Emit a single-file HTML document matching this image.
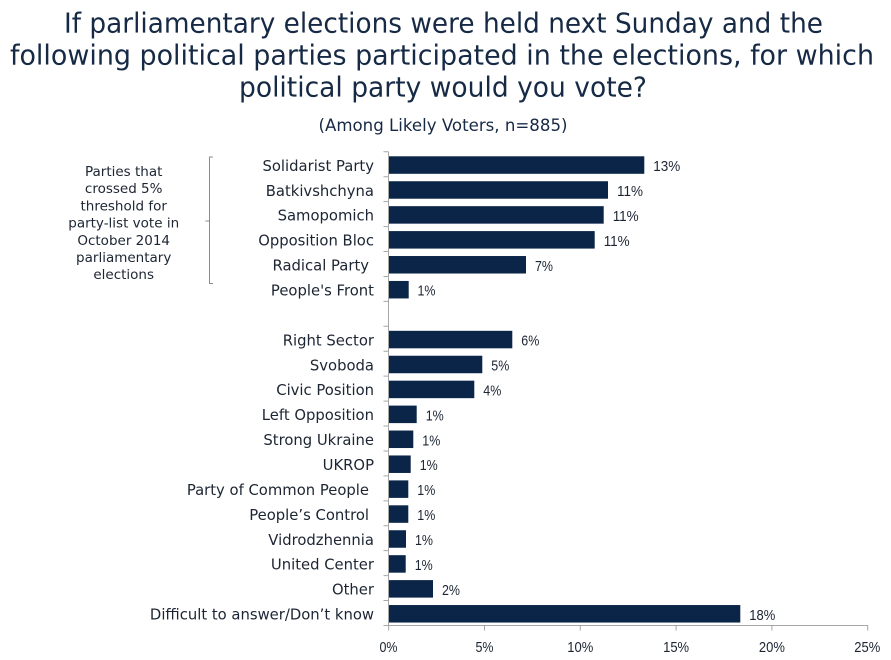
<!DOCTYPE html>
<html>
<head>
<meta charset="utf-8">
<style>
  html,body{margin:0;padding:0;background:#fff;}
  body{width:891px;height:660px;overflow:hidden;}
  svg{display:block;}
  .t{font-family:"DejaVu Sans","Liberation Sans",sans-serif;fill:#172a45;}
  .lab{font-family:"DejaVu Sans","Liberation Sans",sans-serif;font-size:14.8px;fill:#1c2533;}
  .val{font-family:"Liberation Sans","DejaVu Sans",sans-serif;font-size:15px;fill:#1c2533;}
  .note{font-family:"DejaVu Sans","Liberation Sans",sans-serif;font-size:13.5px;fill:#1c2533;}
</style>
</head>
<body>
<svg width="891" height="660" viewBox="0 0 891 660" xmlns="http://www.w3.org/2000/svg">
  <!-- Title -->
  <text class="t" x="64" y="32.3" font-size="27.5" textLength="759" lengthAdjust="spacingAndGlyphs">If parliamentary elections were held next Sunday and the</text>
  <text class="t" x="10" y="64.3" font-size="27.5" textLength="864" lengthAdjust="spacingAndGlyphs">following political parties participated in the elections, for which</text>
  <text class="t" x="239" y="96.5" font-size="27.5" textLength="408" lengthAdjust="spacingAndGlyphs">political party would you vote?</text>
  <text class="t" x="318.5" y="131" font-size="16.5" textLength="249" lengthAdjust="spacingAndGlyphs">(Among Likely Voters, n=885)</text>

  <!-- Note on left -->
  <g class="note" text-anchor="middle">
    <text x="123.7" y="176">Parties that</text>
    <text x="123.7" y="193.2">crossed 5%</text>
    <text x="123.7" y="210.4">threshold for</text>
    <text x="123.7" y="227.6">party-list vote in</text>
    <text x="123.7" y="244.8">October 2014</text>
    <text x="123.7" y="262">parliamentary</text>
    <text x="123.7" y="279.2">elections</text>
  </g>
  <!-- Bracket -->
  <g stroke="#8c8c8c" stroke-width="1" fill="none">
    <path d="M213 157 H209.5 V283.5 H213"/>
    <path d="M209.5 221 H205.5"/>
  </g>

  <!-- Axes -->
  <g stroke="#a6a6a6" stroke-width="1" fill="none">
    <line x1="388.5" y1="151.8" x2="388.5" y2="626"/>
    <line x1="388.5" y1="625.5" x2="868" y2="625.5"/>
    <path d="M383.5 151.8H388.5 M383.5 176.73H388.5 M383.5 201.66H388.5 M383.5 226.59H388.5 M383.5 251.52H388.5 M383.5 276.45H388.5 M383.5 301.38H388.5 M383.5 326.31H388.5 M383.5 351.24H388.5 M383.5 376.17H388.5 M383.5 401.1H388.5 M383.5 426.03H388.5 M383.5 450.96H388.5 M383.5 475.89H388.5 M383.5 500.82H388.5 M383.5 525.75H388.5 M383.5 550.68H388.5 M383.5 575.61H388.5 M383.5 600.54H388.5 M383.5 625.47H388.5"/>
    <path d="M388.7 625.5V630.5 M484.5 625.5V630.5 M580.3 625.5V630.5 M676.1 625.5V630.5 M771.9 625.5V630.5 M867.7 625.5V630.5"/>
  </g>

  <!-- X tick labels -->
  <g class="val" text-anchor="middle">
    <text x="388.5" y="652" textLength="18" lengthAdjust="spacingAndGlyphs">0%</text>
    <text x="484.5" y="652" textLength="18" lengthAdjust="spacingAndGlyphs">5%</text>
    <text x="580.3" y="652" textLength="26" lengthAdjust="spacingAndGlyphs">10%</text>
    <text x="676.1" y="652" textLength="26" lengthAdjust="spacingAndGlyphs">15%</text>
    <text x="771.9" y="652" textLength="26" lengthAdjust="spacingAndGlyphs">20%</text>
    <text x="867.3" y="652" textLength="26" lengthAdjust="spacingAndGlyphs">25%</text>
  </g>

  <!-- Bars -->
  <g fill="#0b2548">
    <rect x="389" y="156.3" width="255.3" height="17.5"/>
    <rect x="389" y="181.23" width="219" height="17.5"/>
    <rect x="389" y="206.16" width="214.7" height="17.5"/>
    <rect x="389" y="231.09" width="205.7" height="17.5"/>
    <rect x="389" y="256.02" width="137" height="17.5"/>
    <rect x="389" y="280.95" width="19.7" height="17.5"/>
    <rect x="389" y="330.81" width="123.3" height="17.5"/>
    <rect x="389" y="355.74" width="93.3" height="17.5"/>
    <rect x="389" y="380.67" width="85.3" height="17.5"/>
    <rect x="389" y="405.6" width="27.7" height="17.5"/>
    <rect x="389" y="430.53" width="24.3" height="17.5"/>
    <rect x="389" y="455.46" width="21.7" height="17.5"/>
    <rect x="389" y="480.39" width="19.3" height="17.5"/>
    <rect x="389" y="505.32" width="19.3" height="17.5"/>
    <rect x="389" y="530.25" width="17" height="17.5"/>
    <rect x="389" y="555.18" width="16.7" height="17.5"/>
    <rect x="389" y="580.11" width="44" height="17.5"/>
    <rect x="389" y="605.04" width="351.3" height="17.5"/>
  </g>

  <!-- Category labels -->
  <g class="lab" text-anchor="end">
    <text x="374" y="170.85">Solidarist Party</text>
    <text x="374" y="195.78">Batkivshchyna</text>
    <text x="374" y="220.71">Samopomich</text>
    <text x="374" y="245.64">Opposition Bloc</text>
    <text x="369" y="270.57">Radical Party</text>
    <text x="374" y="295.5">People's Front</text>
    <text x="374" y="345.36">Right Sector</text>
    <text x="374" y="370.29">Svoboda</text>
    <text x="374" y="395.22">Civic Position</text>
    <text x="374" y="420.15">Left Opposition</text>
    <text x="374" y="445.08">Strong Ukraine</text>
    <text x="374" y="470.01">UKROP</text>
    <text x="369" y="494.94">Party of Common People</text>
    <text x="369" y="519.87">People’s Control</text>
    <text x="374" y="544.8">Vidrodzhennia</text>
    <text x="374" y="569.73">United Center</text>
    <text x="374" y="594.66">Other</text>
    <text x="374" y="619.59">Difficult to answer/Don’t know</text>
  </g>

  <!-- Value labels -->
  <g class="val">
    <text x="653.3" y="171.1" textLength="27" lengthAdjust="spacingAndGlyphs">13%</text>
    <text x="617" y="196" textLength="26" lengthAdjust="spacingAndGlyphs">11%</text>
    <text x="612.7" y="220.9" textLength="26" lengthAdjust="spacingAndGlyphs">11%</text>
    <text x="603.7" y="245.9" textLength="26" lengthAdjust="spacingAndGlyphs">11%</text>
    <text x="535" y="270.8" textLength="18" lengthAdjust="spacingAndGlyphs">7%</text>
    <text x="417.5" y="295.7" textLength="18" lengthAdjust="spacingAndGlyphs">1%</text>
    <text x="521.3" y="345.6" textLength="18" lengthAdjust="spacingAndGlyphs">6%</text>
    <text x="491.3" y="370.5" textLength="18" lengthAdjust="spacingAndGlyphs">5%</text>
    <text x="483.3" y="395.4" textLength="18" lengthAdjust="spacingAndGlyphs">4%</text>
    <text x="425.7" y="420.4" textLength="18" lengthAdjust="spacingAndGlyphs">1%</text>
    <text x="422.3" y="445.3" textLength="18" lengthAdjust="spacingAndGlyphs">1%</text>
    <text x="419.7" y="470.2" textLength="18" lengthAdjust="spacingAndGlyphs">1%</text>
    <text x="417.3" y="495.2" textLength="18" lengthAdjust="spacingAndGlyphs">1%</text>
    <text x="417.3" y="520.1" textLength="18" lengthAdjust="spacingAndGlyphs">1%</text>
    <text x="415" y="545" textLength="18" lengthAdjust="spacingAndGlyphs">1%</text>
    <text x="414.7" y="569.9" textLength="18" lengthAdjust="spacingAndGlyphs">1%</text>
    <text x="442" y="594.9" textLength="18" lengthAdjust="spacingAndGlyphs">2%</text>
    <text x="749.3" y="619.8" textLength="26" lengthAdjust="spacingAndGlyphs">18%</text>
  </g>
</svg>
</body>
</html>
